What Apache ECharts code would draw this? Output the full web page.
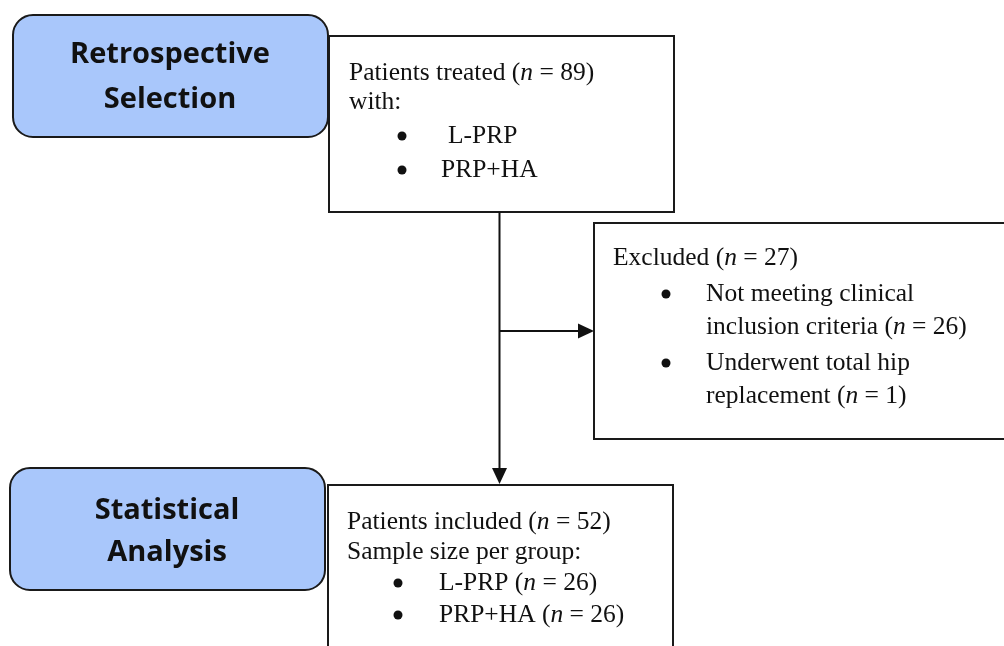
<!DOCTYPE html>
<html>
<head>
<meta charset="utf-8">
<script src="https://cdn.jsdelivr.net/npm/echarts@6/dist/echarts.min.js"></script>
<style>
  html, body { margin: 0; padding: 0; background: #fff; }
  #chart { width: 1004px; height: 646px; }
</style>
</head>
<body>
<div id="chart"></div>
<script>
// flow content
const stageTitles = [['Retrospective', 'Selection'], ['Statistical', 'Analysis']]
const treatedCount = 89
const treatments = ['L-PRP', 'PRP+HA']
const excludedCount = 27
const exclusionLines = [
  ['Not meeting clinical', 'inclusion criteria', 26],
  ['Underwent total hip', 'replacement', 1]
]
const includedCount = 52
const groupSizes = [26, 26]

const serif = '"Liberation Serif", "Times New Roman", serif'
const bodySize = 25.5
const rich = {
  r: { fontFamily: serif, fontSize: bodySize, fill: '#111' },
  i: { fontFamily: serif, fontSize: bodySize, fontStyle: 'italic', fill: '#111' }
}

// text with an italic n: "(n = x)"
const withN = (pre, n) => `{r|${pre}(}{i|n}{r| = ${n})}`

const line = (x, y, str) => ({
  type: 'text',
  x, y,
  style: { text: str, rich, verticalAlign: 'middle', align: 'left' }
})
const bullet = (x, y) => ({
  type: 'circle',
  shape: { cx: x, cy: y, r: 4.5 },
  style: { fill: '#111' }
})
const box = (x, y, w, h, r, fill) => ({
  type: 'rect',
  shape: { x, y, width: w, height: h, r },
  style: { fill, stroke: '#1a1a1a', lineWidth: 2 }
})
const title = (cx, y, str) => ({
  type: 'text',
  x: cx, y,
  style: {
    text: str, align: 'center', verticalAlign: 'middle',
    fontFamily: '"Open Sans", Lato, sans-serif', fontWeight: 'bold', fontSize: 29, fill: '#111'
  }
})
const arrowHead = (pts) => ({
  type: 'polygon',
  shape: { points: pts },
  style: { fill: '#111' }
})

const graphic = [
  // stage boxes
  box(13, 15, 315, 122, 20, '#a9c7fb'),
  title(170, 55, stageTitles[0][0]),
  title(170, 100, stageTitles[0][1]),
  box(10, 468, 315, 122, 20, '#a9c7fb'),
  title(167, 511, stageTitles[1][0]),
  title(167, 553, stageTitles[1][1]),

  // treated
  box(329, 36, 345, 176, 0, '#fff'),
  line(349, 73, withN('Patients treated ', treatedCount)),
  line(349, 102, '{r|with:}'),
  bullet(402, 136), line(448, 136, `{r|${treatments[0]}}`),
  bullet(402, 170), line(441, 170, `{r|${treatments[1]}}`),

  // connectors
  { type: 'line', shape: { x1: 499.5, y1: 212, x2: 499.5, y2: 472 }, style: { stroke: '#111', lineWidth: 2 } },
  arrowHead([[492, 468], [507, 468], [499.5, 484]]),
  { type: 'line', shape: { x1: 499.5, y1: 331, x2: 582, y2: 331 }, style: { stroke: '#111', lineWidth: 2 } },
  arrowHead([[578, 323.5], [578, 338.5], [594, 331]]),

  // excluded
  box(594, 223, 430, 216, 0, '#fff'),
  line(613, 258, withN('Excluded ', excludedCount)),
  bullet(666, 294), line(706, 294, `{r|${exclusionLines[0][0]}}`),
  line(706, 327, withN(exclusionLines[0][1] + ' ', exclusionLines[0][2])),
  bullet(666, 363), line(706, 363, `{r|${exclusionLines[1][0]}}`),
  line(706, 396, withN(exclusionLines[1][1] + ' ', exclusionLines[1][2])),

  // included
  box(328, 485, 345, 200, 0, '#fff'),
  line(347, 522, withN('Patients included ', includedCount)),
  line(347, 552, '{r|Sample size per group:}'),
  bullet(398, 583), line(439, 583, withN(treatments[0] + ' ', groupSizes[0])),
  bullet(398, 615), line(439, 615, withN(treatments[1] + ' ', groupSizes[1]))
]

const chart = echarts.init(document.getElementById('chart'))
chart.setOption({
  backgroundColor: '#fff',
  animation: false,
  graphic
})
</script>
</body>
</html>
